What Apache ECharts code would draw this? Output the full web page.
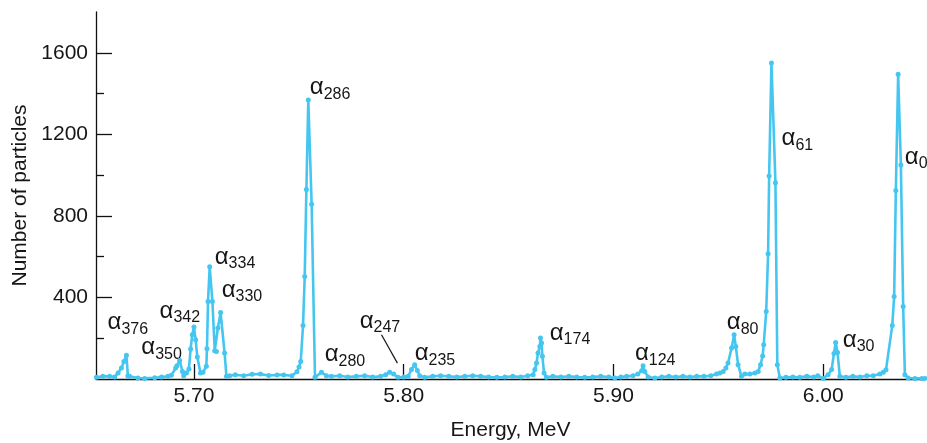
<!DOCTYPE html>
<html><head><meta charset="utf-8">
<script src="https://cdn.jsdelivr.net/npm/echarts@6/dist/echarts.min.js"></script>
<style>html,body{margin:0;padding:0;background:#fff}#c{width:927px;height:443px}</style>
</head><body><div id="c"></div>
<script>
const energies = [
5.6535,5.6566,5.6598,5.6622,5.6638,5.6654,5.6666,5.6678,5.6685,5.6693,
5.6733,5.6765,5.6813,5.6845,5.6876,5.6892,5.6913,5.6919,5.6932,5.6945,
5.6951,5.6964,5.6976,5.6984,5.6992,5.7000,5.7008,5.7016,5.7031,5.7043,
5.7059,5.7062,5.7067,5.7075,5.7088,5.7099,5.7107,5.7114,5.7127,5.7146,
5.7155,5.7170,5.7197,5.7237,5.7277,5.7317,5.7356,5.7396,5.7428,5.7467,
5.7491,5.7501,5.7509,5.7520,5.7528,5.7536,5.7545,5.7561,5.7577,5.7608,
5.7631,5.7655,5.7695,5.7734,5.7774,5.7814,5.7852,5.7890,5.7914,5.7933,
5.7952,5.7973,5.8000,5.8021,5.8037,5.8052,5.8065,5.8076,5.8100,5.8138,
5.8176,5.8215,5.8253,5.8291,5.8329,5.8367,5.8405,5.8444,5.8482,5.8520,
5.8558,5.8591,5.8617,5.8625,5.8633,5.8640,5.8649,5.8652,5.8657,5.8661,
5.8669,5.8680,5.8711,5.8749,5.8787,5.8825,5.8863,5.8901,5.8939,5.8978,
5.9006,5.9035,5.9063,5.9093,5.9116,5.9134,5.9141,5.9149,5.9165,5.9197,
5.9230,5.9264,5.9297,5.9331,5.9364,5.9397,5.9431,5.9464,5.9491,5.9507,
5.9523,5.9536,5.9546,5.9563,5.9575,5.9583,5.9594,5.9610,5.9626,5.9650,
5.9674,5.9690,5.9701,5.9711,5.9716,5.9728,5.9737,5.9742,5.9753,5.9772,
5.9781,5.9793,5.9822,5.9855,5.9888,5.9922,5.9955,5.9974,6.0000,6.0023,
6.0040,6.0051,6.0059,6.0068,6.0079,6.0108,6.0141,6.0175,6.0208,6.0238,
6.0270,6.0286,6.0299,6.0329,6.0338,6.0346,6.0357,6.0370,6.0381,6.0389,
6.0405,6.0437,6.0470,6.0485
];
const counts = [
8,13,13,10,29,54,86,117,15,13,
5,3,6,10,13,18,54,65,91,37,
16,29,49,147,217,255,192,108,29,33,
62,148,380,551,380,139,135,250,326,127,
13,16,21,16,23,24,17,20,20,16,
36,59,86,263,503,930,1368,857,8,33,
16,13,16,10,13,16,10,13,21,33,
24,8,10,13,46,70,42,16,8,13,
16,13,10,13,16,13,10,8,10,13,
10,16,21,46,78,127,160,201,176,111,
29,8,13,10,13,10,8,10,13,10,
5,10,13,16,24,41,65,37,10,5,
10,13,10,13,10,13,13,16,24,29,
37,54,78,152,217,160,70,13,24,24,
29,37,70,113,168,331,614,996,1550,963,
70,5,8,10,8,13,10,16,2,21,
46,125,179,130,13,8,13,10,16,16,
24,33,45,263,405,924,1495,1050,356,21,
5,3,3,3
];
const xTicks = [5.70, 5.80, 5.90, 6.00];
const yMajorTicks = [400, 800, 1200, 1600];
const yMinorTicks = [200, 600, 1000, 1400];
const peakNames  = ['376','350','342','334','330','286','280','247','235','174','124','80','61','30','0'];
const peakLabelE = [5.6588,5.6749,5.6836,5.7099,5.7132,5.7552,5.7623,5.7790,5.8052,5.8696,5.9102,5.9540,5.9801,6.0093,6.0389];
const peakLabelN = [276,153,332,596,437,1429,119,285,124,224,124,276,1178,190,1089];
const leaderE = [5.7894, 5.7970];
const leaderN = [217, 78];

const FONT = 'Liberation Sans, Arial, Helvetica, sans-serif';
const LINE = '#45c6f0';
const AX = '#111';
const TXT = '#161616';

const chart = echarts.init(document.getElementById('c'), null, {renderer: 'canvas'});
chart.setOption({
  animation: false,
  backgroundColor: '#fff',
  grid: {left: 96, right: 2, top: 12, bottom: 64, containLabel: false, outerBoundsMode: 'none'},
  xAxis: {
    type: 'value', min: 5.6533, max: 6.0485,
    axisLine: {show: true, lineStyle: {color: AX, width: 1.3}},
    axisTick: {show: true, inside: true, length: 15, customValues: xTicks, lineStyle: {color: AX, width: 1.3}},
    axisLabel: {customValues: xTicks, formatter: v => v.toFixed(2), fontSize: 21, color: TXT, fontFamily: FONT, margin: 7},
    splitLine: {show: false},
    name: 'Energy, MeV', nameLocation: 'middle', nameGap: 41,
    nameTextStyle: {fontSize: 21, color: TXT, fontFamily: FONT}
  },
  yAxis: [{
    type: 'value', min: 0, max: 1800, position: 'left',
    axisLine: {show: true, lineStyle: {color: AX, width: 1.3}},
    axisTick: {show: true, inside: true, length: 16, customValues: yMajorTicks, lineStyle: {color: AX, width: 1.3}},
    axisLabel: {customValues: yMajorTicks, formatter: v => String(v), fontSize: 21, color: TXT, fontFamily: FONT, margin: 8},
    splitLine: {show: false},
    name: 'Number of particles', nameLocation: 'middle', nameGap: 59,
    nameTextStyle: {fontSize: 21, color: TXT, fontFamily: FONT}
  }, {
    type: 'value', min: 0, max: 1800, position: 'left',
    axisLine: {show: false},
    axisTick: {show: true, inside: true, length: 8, customValues: yMinorTicks, lineStyle: {color: AX, width: 1.3}},
    axisLabel: {show: false},
    splitLine: {show: false}
  }],
  series: [{
    type: 'line',
    data: energies.map((e, i) => [e, counts[i]]),
    symbol: 'circle', symbolSize: 5,
    lineStyle: {color: LINE, width: 2.6},
    itemStyle: {color: LINE},
    z: 3
  }, {
    type: 'scatter',
    data: peakNames.map((n, i) => ({name: n, value: [peakLabelE[i], peakLabelN[i]]})),
    symbolSize: 0,
    silent: true,
    itemStyle: {color: TXT, opacity: 1},
    label: {
      show: true, position: 'right', distance: 0, color: TXT, opacity: 1,
      formatter: p => '{a|\u03b1}{s|' + p.name + '}',
      rich: {
        a: {fontSize: 24, fontFamily: FONT, color: TXT},
        s: {fontSize: 16, fontFamily: FONT, color: TXT, padding: [13, 0, 0, 0]}
      }
    },
    emphasis: {disabled: true},
    markLine: {
      silent: true, symbol: 'none',
      lineStyle: {color: TXT, width: 1.2, type: 'solid', opacity: 1},
      label: {show: false},
      data: [[{coord: [leaderE[0], leaderN[0]]}, {coord: [leaderE[1], leaderN[1]]}]]
    }
  }]
});
</script>
</body></html>
